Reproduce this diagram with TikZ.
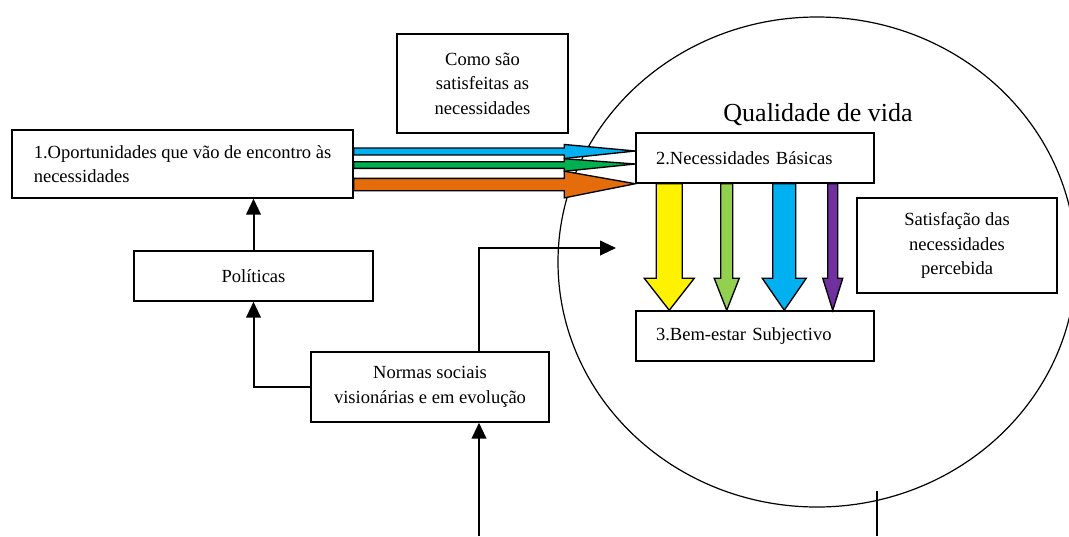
\documentclass[tikz,border=0pt]{standalone}
\usepackage{fontspec}
\setmainfont{Liberation Serif}
\usepackage{xcolor}
\usepackage{tikz}
\usetikzlibrary{positioning}
\usetikzlibrary{arrows.meta}
\usetikzlibrary{calc}
\pgfdeclarelayer{nodelayer}
\pgfdeclarelayer{edgelayer}
\pgfsetlayers{nodelayer,edgelayer,main}

\definecolor{sky}{HTML}{00B0F0}
\definecolor{leaf}{HTML}{00B050}
\definecolor{lime}{HTML}{92D050}
\definecolor{rust}{HTML}{E46C0A}
\definecolor{plum}{HTML}{7030A0}
\newcommand{\boxfont}{\fontsize{13.9pt}{18.4pt}\selectfont}

\tikzset{
  box/.style={draw, line width=1.1pt, inner sep=0pt, font=\boxfont},
  midbox/.style={box, align=center},
  leftbox/.style={box, align=left, inner xsep=15pt},
  conn/.style={line width=1.5pt, -{Triangle[width=11pt,length=12pt]}},
  fat/.style={draw, line width=1pt},
  fatright/.style n args={3}{to path={let \p1=(\tikztostart), \p2=(\tikztotarget) in
    (\x1,\y1+#1) -- (\x2-#3,\y1+#1) -- (\x2-#3,\y1+#2) -- (\x2,\y2) -- (\x2-#3,\y1-#2) -- (\x2-#3,\y1-#1) -- (\x1,\y1-#1) -- cycle}},
  fatdown/.style n args={3}{to path={let \p1=(\tikztostart), \p2=(\tikztotarget) in
    (\x1-#1,\y1) -- (\x1-#1,\y2+#3) -- (\x1-#2,\y2+#3) -- (\x2,\y2) -- (\x1+#2,\y2+#3) -- (\x1+#1,\y2+#3) -- (\x1+#1,\y1) -- cycle}},
}

\begin{document}
\begin{tikzpicture}[x=7.5pt, y=-7.5pt]
  \useasboundingbox (0,0) rectangle (106.9,53.6);
  \begin{pgfonlayer}{nodelayer}
    \draw [line width=0.9pt] (81.7,26.2) ellipse [x radius=194.25pt, y radius=183.75pt];
    \node [box, align=left, minimum width=255.75pt, minimum height=51pt] (opp) at (18.25,16.4) {1.Oportunidades que vão de encontro às\\necessidades};
    \node [midbox, minimum width=179.25pt, minimum height=37.5pt] (pol) at (25.35,27.6) {Políticas};
    \node [midbox, minimum width=178.5pt, minimum height=52.5pt] (norms) at (43,38.7) {Normas sociais\\visionárias e em evolução};
    \node [midbox, minimum width=128.25pt, minimum height=74.25pt] (how) at (48.25,8.35) {Como são\\satisfeitas as\\necessidades};
    \node [leftbox, text width=148.5pt, minimum height=37.5pt] (needs) at (75.5,15.8) {2.Necessidades Básicas};
    \node [leftbox, text width=148.5pt, minimum height=37.5pt] (wellbeing) at (75.5,33.6) {3.Bem-estar Subjectivo};
    \node [midbox, minimum width=150pt, minimum height=71.25pt] (felt) at (95.7,24.55) {Satisfação das\\necessidades\\percebida};
    \node [font=\fontsize{19.5pt}{23pt}\selectfont] (qol) at (81.8,11.45) {Qualidade de vida};
    \coordinate (feed) at (47.9,53.6);
    \coordinate (cross) at (61.6,24.8);
    \coordinate (exit) at (87.7,49.1);
    \coordinate (exitend) at (87.7,53.6);
  \end{pgfonlayer}
  \begin{pgfonlayer}{edgelayer}
    \draw [conn] (pol.north) -- (pol.north |- opp.south);
    \draw [conn] (norms.west) -| (pol.south);
    \draw [conn] (feed) -- (feed |- norms.south);
    \draw [conn] (feed |- norms.north) |- (cross);
    \draw [line width=1.5pt] (exit) -- (exitend);
    \draw [fat, fill=rust, fatright={4.65pt}{10pt}{53.25pt}] ([yshift=-15.4pt]opp.east) to (needs.south west);
    \draw [fat, fill=leaf, fatright={2.5pt}{4.7pt}{53.25pt}] ([yshift=-0.75pt]opp.east) to ([yshift=-4.5pt]needs.west);
    \draw [fat, fill=sky, fatright={2.6pt}{5.25pt}{53.25pt}] ([yshift=9.4pt]opp.east) to ([yshift=5.25pt]needs.west);
    \draw [fat, fill=yellow, fatdown={9.75pt}{18.75pt}{24pt}] ([xshift=25.5pt]needs.south west) to ([xshift=25.5pt]wellbeing.north west);
    \draw [fat, fill=lime, fatdown={4.5pt}{9.4pt}{24pt}] ([xshift=68.6pt]needs.south west) to ([xshift=68.6pt]wellbeing.north west);
    \draw [fat, fill=sky, fatdown={8.6pt}{16.5pt}{24pt}] ([xshift=111.75pt]needs.south west) to ([xshift=111.75pt]wellbeing.north west);
    \draw [fat, fill=plum, fatdown={3.75pt}{7.5pt}{24pt}] ([xshift=148.1pt]needs.south west) to ([xshift=148.1pt]wellbeing.north west);
  \end{pgfonlayer}
\end{tikzpicture}
\end{document}
